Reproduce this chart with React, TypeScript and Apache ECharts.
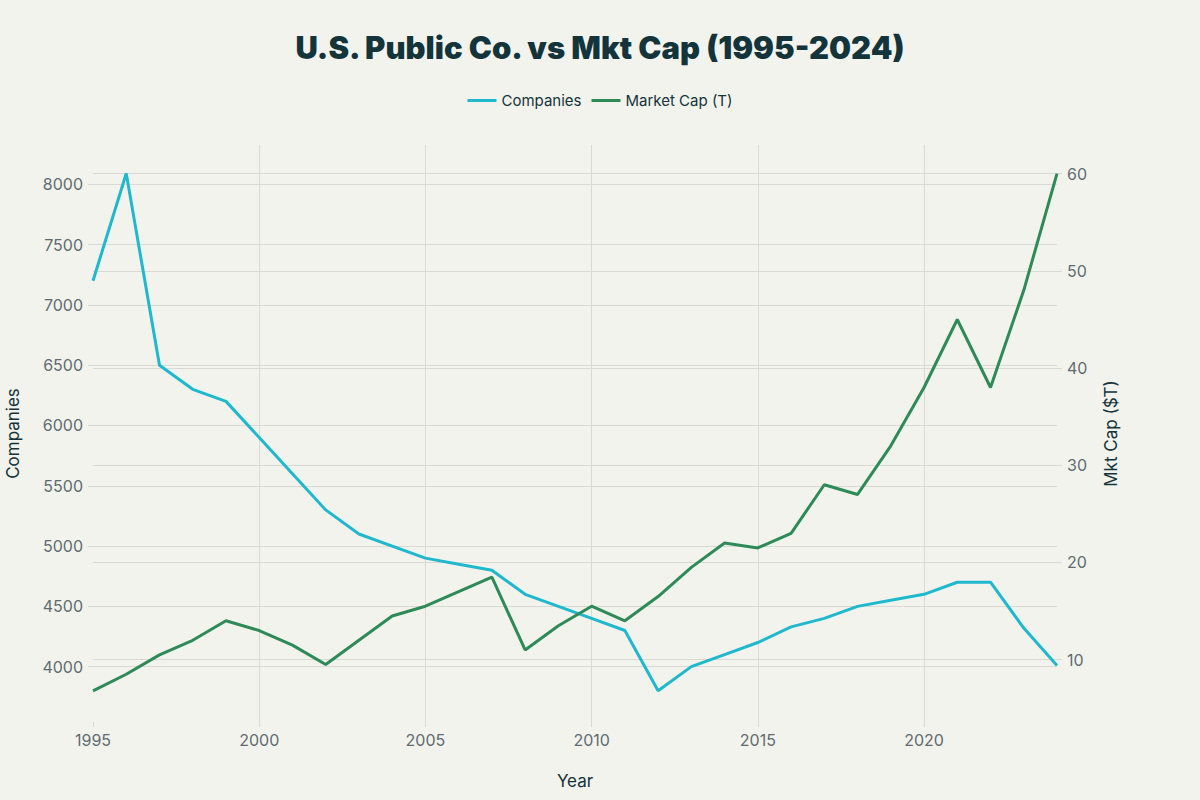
import React, { useEffect, useRef } from "react";
import * as echarts from "echarts";

const years = [1995, 1996, 1997, 1998, 1999, 2000, 2001, 2002, 2003, 2004, 2005, 2006, 2007, 2008, 2009, 2010, 2011, 2012, 2013, 2014, 2015, 2016, 2017, 2018, 2019, 2020, 2021, 2022, 2023, 2024];
const companies = [7200, 8090, 6500, 6300, 6200, 5900, 5600, 5300, 5100, 5000, 4900, 4850, 4800, 4600, 4500, 4400, 4300, 3800, 4000, 4100, 4200, 4330, 4400, 4500, 4550, 4600, 4700, 4700, 4320, 4010];
const marketCap = [6.8, 8.5, 10.5, 12, 14, 13, 11.5, 9.5, 12, 14.5, 15.5, 17, 18.5, 11, 13.5, 15.5, 14, 16.5, 19.5, 22, 21.5, 23, 28, 27, 32, 38, 45, 38, 48, 60];
const xTicks = [1995, 2000, 2005, 2010, 2015, 2020];
const leftTicks = [4000, 4500, 5000, 5500, 6000, 6500, 7000, 7500, 8000];
const rightTicks = [10, 20, 30, 40, 50, 60];

const FONT = "Inter, 'Noto Sans', sans-serif";
const DARK = "#13343B";
const GRAY = "#5F6B70";
const GRID = "#D9DAD4";

export default function App() {
  const ref = useRef<HTMLDivElement>(null);
  useEffect(() => {
    if (!ref.current) return;
    const chart = echarts.init(ref.current, undefined, { renderer: "svg" });
    chart.setOption({
      animation: false,
      backgroundColor: "#F3F3EE",
      textStyle: { fontFamily: FONT },
      title: {
        text: "U.S. Public Co. vs Mkt Cap (1995-2024)",
        left: "center",
        top: 27,
        textStyle: { fontFamily: FONT, fontSize: 31, fontWeight: 900, color: DARK },
      },
      legend: {
        top: 88,
        left: "center",
        icon: "rect",
        itemWidth: 29,
        itemHeight: 3,
        itemGap: 10,
        textStyle: { fontFamily: FONT, fontSize: 15, color: DARK },
        data: ["Companies", "Market Cap (T)"],
      },
      grid: { left: 93, right: 143, top: 145, bottom: 78, outerBoundsMode: "none", containLabel: false },
      xAxis: {
        type: "value",
        min: 1995,
        max: 2024,
        interval: 5,
        name: "Year",
        nameLocation: "middle",
        nameGap: 50,
        nameTextStyle: { fontFamily: FONT, fontSize: 17, color: DARK },
        axisLine: { show: false },
        axisTick: { show: true, length: 5, customValues: xTicks, lineStyle: { color: GRID } },
        axisLabel: { fontFamily: FONT, fontSize: 16, color: GRAY, margin: 10, customValues: xTicks, formatter: (v: number) => String(v) },
        splitLine: { show: true, showMinLine: false, lineStyle: { color: GRID, width: 1 } },
      },
      yAxis: [
        {
          type: "value",
          min: 3541,
          max: 8326,
          name: "Companies",
          nameLocation: "middle",
          nameGap: 72,
          nameTextStyle: { fontFamily: FONT, fontSize: 17, color: DARK },
          axisLine: { show: false },
          axisTick: { show: true, length: 5, customValues: leftTicks, lineStyle: { color: GRID } },
          axisLabel: { fontFamily: FONT, fontSize: 16, color: GRAY, margin: 10, customValues: leftTicks, formatter: (v: number) => String(v) },
          splitLine: { show: true, lineStyle: { color: GRID, width: 1 } },
        },
        {
          type: "value",
          min: 3.59,
          max: 62.95,
          name: "Mkt Cap ($T)",
          nameLocation: "middle",
          nameGap: 45,
          nameTextStyle: { fontFamily: FONT, fontSize: 17, color: DARK },
          axisLine: { show: false },
          axisTick: { show: true, length: 5, customValues: rightTicks, lineStyle: { color: GRID } },
          axisLabel: { fontFamily: FONT, fontSize: 16, color: GRAY, margin: 10, customValues: rightTicks, formatter: (v: number) => String(v) },
          splitLine: { show: true, lineStyle: { color: GRID, width: 1 } },
        },
      ],
      series: [
        {
          name: "Companies",
          type: "line",
          yAxisIndex: 0,
          showSymbol: false,
          symbol: "none",
          itemStyle: { color: "#1FB8CD" },
          lineStyle: { color: "#1FB8CD", width: 3 },
          data: years.map((y, i) => [y, companies[i]]),
        },
        {
          name: "Market Cap (T)",
          type: "line",
          yAxisIndex: 1,
          showSymbol: false,
          symbol: "none",
          itemStyle: { color: "#2E8B57" },
          lineStyle: { color: "#2E8B57", width: 3 },
          data: years.map((y, i) => [y, marketCap[i]]),
        },
      ],
    });
    return () => chart.dispose();
  }, []);
  return <div ref={ref} style={{ width: 1200, height: 800, position: "absolute", left: 0, top: 0 }} />;
}
